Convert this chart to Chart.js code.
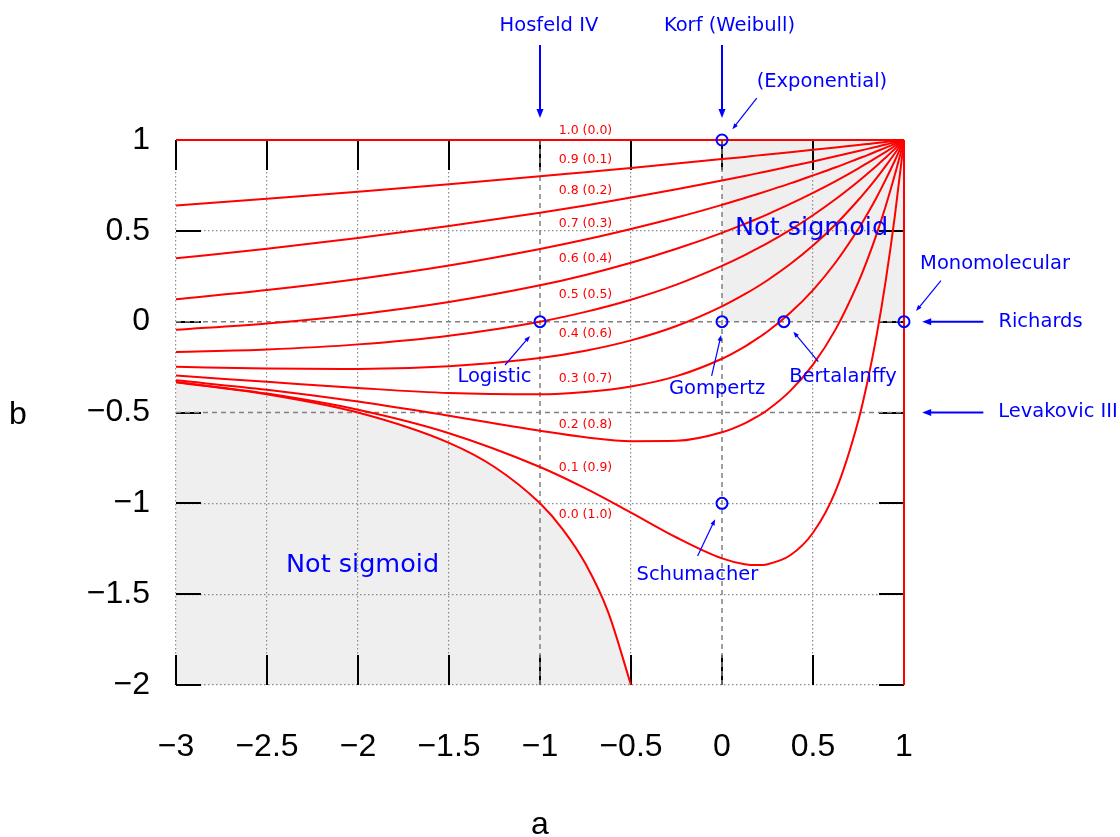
<!DOCTYPE html>
<html><head><meta charset="utf-8">
<script src="https://cdn.jsdelivr.net/npm/chart.js@4.4.1/dist/chart.umd.min.js"></script>
<style>html,body{margin:0;padding:0;background:#fff;overflow:hidden}#wrap{width:1120px;height:837px;position:relative}</style>
</head><body>
<div id="wrap"><canvas id="c" width="1120" height="837"></canvas></div>
<script>
// ---- data ----
const aGrid = [-3, -2.5, -2, -1.5, -1, -0.75, -0.5, -0.25, 0, 0.125, 0.1875, 0.25, 0.375, 0.5, 0.625, 0.75, 0.8, 0.85, 0.9, 0.95, 1];
const b09 = [0.639, 0.676, 0.715, 0.756, 0.800, 0.823, 0.846, 0.870, 0.895, 0.907, 0.914, 0.920, 0.933, 0.946, 0.959, 0.973, 0.978, 0.983, 0.989, 0.994, 1];
const b08 = [0.349, 0.401, 0.460, 0.526, 0.600, 0.640, 0.683, 0.729, 0.777, 0.802, 0.815, 0.828, 0.855, 0.882, 0.910, 0.939, 0.951, 0.963, 0.975, 0.988, 1];
const b07 = [0.124, 0.174, 0.235, 0.309, 0.400, 0.452, 0.510, 0.573, 0.643, 0.681, 0.700, 0.720, 0.761, 0.805, 0.850, 0.898, 0.917, 0.938, 0.958, 0.979, 1];
const b06 = [-0.045, -0.010, 0.040, 0.108, 0.200, 0.257, 0.324, 0.401, 0.489, 0.538, 0.564, 0.591, 0.648, 0.709, 0.774, 0.844, 0.874, 0.904, 0.935, 0.967, 1];
const b05 = [-0.167, -0.153, -0.125, -0.077, 0.000, 0.054, 0.121, 0.204, 0.307, 0.366, 0.399, 0.432, 0.505, 0.586, 0.675, 0.773, 0.815, 0.858, 0.904, 0.951, 1];
const b04 = [-0.248, -0.258, -0.260, -0.245, -0.200, -0.160, -0.103, -0.024, 0.084, 0.151, 0.188, 0.228, 0.317, 0.419, 0.536, 0.671, 0.730, 0.792, 0.858, 0.927, 1];
const b03 = [-0.297, -0.331, -0.365, -0.393, -0.400, -0.387, -0.357, -0.300, -0.204, -0.137, -0.097, -0.054, 0.049, 0.174, 0.327, 0.511, 0.595, 0.685, 0.783, 0.887, 1];
const b02 = [-0.323, -0.375, -0.440, -0.518, -0.600, -0.636, -0.658, -0.656, -0.609, -0.560, -0.526, -0.486, -0.381, -0.236, -0.041, 0.219, 0.344, 0.483, 0.638, 0.810, 1];
const b01 = [-0.332, -0.396, -0.485, -0.614, -0.800, -0.918, -1.051, -1.188, -1.303, -1.335, -1.340, -1.335, -1.286, -1.162, -0.930, -0.541, -0.327, -0.073, 0.229, 0.584, 1];
const boundaryA = [-3, -2.5, -2, -1.5, -1.25, -1, -0.875, -0.75, -0.625, -0.5];
const boundaryB = [-0.333, -0.4, -0.5, -0.667, -0.8, -1, -1.143, -1.333, -1.6, -2];
const topLineA = [-3, 1];
const topLineB = [1, 1];
const rightLineA = [1, 1];
const rightLineB = [1, -2];
const markerA = [0, -1, 0, 0.34, 1, 0];
const markerB = [1, 0, 0, 0, 0, -1];
const familyA = [-1, 0];      // dashed vertical family lines
const familyB = [0, -0.5];    // dashed horizontal family lines
const curveLabels = ['1.0 (0.0)', '0.9 (0.1)', '0.8 (0.2)', '0.7 (0.3)', '0.6 (0.4)', '0.5 (0.5)', '0.4 (0.6)', '0.3 (0.7)', '0.2 (0.8)', '0.1 (0.9)', '0.0 (1.0)'];
const curveLabelB = [1.05, 0.89, 0.72, 0.54, 0.345, 0.147, -0.068, -0.316, -0.569, -0.805, -1.064];
const xTickValues = [-3, -2.5, -2, -1.5, -1, -0.5, 0, 0.5, 1];
const yTickValues = [1, 0.5, 0, -0.5, -1, -1.5, -2];

// text notes (data coordinates) and arrows
const notes = [
  {t: 'Hosfeld IV', a: -0.951, b: 1.628},
  {t: 'Korf (Weibull)', a: 0.041, b: 1.628},
  {t: '(Exponential)', a: 0.549, b: 1.319},
  {t: 'Monomolecular', a: 1.5, b: 0.317},
  {t: 'Richards', a: 1.75, b: 0.0},
  {t: 'Levakovic III', a: 1.846, b: -0.495},
  {t: 'Logistic', a: -1.25, b: -0.305},
  {t: 'Gompertz', a: -0.027, b: -0.371},
  {t: 'Bertalanffy', a: 0.665, b: -0.305},
  {t: 'Schumacher', a: -0.135, b: -1.394}
];
const bigNotes = [
  {t: 'Not sigmoid', a: 0.492, b: 0.516},
  {t: 'Not sigmoid', a: -1.975, b: -1.339}
];
const arrows = [
  {a1: -1, b1: 1.523, a2: -1, b2: 1.121, thick: true},
  {a1: 0, b1: 1.523, a2: 0, b2: 1.121, thick: true},
  {a1: 1.436, b1: 0, a2: 1.1, b2: 0, thick: true},
  {a1: 1.436, b1: -0.5, a2: 1.1, b2: -0.5, thick: true},
  {a1: 0.191, b1: 1.23, a2: 0.057, b2: 1.059, thick: false},
  {a1: 1.203, b1: 0.2255, a2: 1.066, b2: 0.0587, thick: false},
  {a1: -1.192, b1: -0.2385, a2: -1.055, b2: -0.079, thick: false},
  {a1: -0.057, b1: -0.299, a2: -0.005, b2: -0.073, thick: false},
  {a1: 0.529, b1: -0.22, a2: 0.392, b2: -0.055, thick: false},
  {a1: -0.134, b1: -1.29, a2: -0.038, b2: -1.088, thick: false}
];

const RED = '#ff0000', BLUE = '#0000ff', SHADE = '#efefef';
const pts = (xs, ys) => xs.map((v, i) => ({x: v, y: ys[i]}));
const fmt = v => String(v).replace('-', '\u2212');

const datasets = [];
datasets.push({data: pts(markerA, markerB), showLine: false, pointRadius: 5.5, pointBorderWidth: 2,
  pointBorderColor: BLUE, pointBackgroundColor: 'rgba(0,0,0,0)', order: 0, clip: false});
[b09, b08, b07, b06, b05, b04, b03, b02, b01].forEach(arr => {
  datasets.push({data: pts(aGrid, arr), showLine: true, borderColor: RED, borderWidth: 2, pointRadius: 0,
    cubicInterpolationMode: 'monotone', fill: false, order: 1, clip: false});
});
datasets.push({data: pts(boundaryA, boundaryB), showLine: true, borderColor: RED, borderWidth: 2, pointRadius: 0,
  cubicInterpolationMode: 'monotone', fill: 'start', backgroundColor: SHADE, order: 1, clip: false});
datasets.push({data: pts(topLineA, topLineB), showLine: true, borderColor: RED, borderWidth: 2, pointRadius: 0, fill: false, order: 1, clip: false});
datasets.push({data: pts(rightLineA, rightLineB), showLine: true, borderColor: RED, borderWidth: 2, pointRadius: 0, fill: false, order: 1, clip: false});
familyA.forEach(a => datasets.push({data: [{x: a, y: 1}, {x: a, y: -2}], showLine: true, borderColor: '#808080',
  borderWidth: 1.5, borderDash: [5, 4], pointRadius: 0, fill: false, order: 2, clip: false}));
familyB.forEach(b => datasets.push({data: [{x: -3, y: b}, {x: 1, y: b}], showLine: true, borderColor: '#808080',
  borderWidth: 1.5, borderDash: [5, 4], pointRadius: 0, fill: false, order: 2, clip: false}));
// shaded "not sigmoid" square
datasets.push({data: [{x: 0, y: 1}, {x: 1, y: 1}], showLine: true, borderWidth: 0, borderColor: 'rgba(0,0,0,0)',
  pointRadius: 0, fill: {value: 0}, backgroundColor: SHADE, order: 3});

function arrow(ctx, x1, y1, x2, y2, lw, hl, hw) {
  const ang = Math.atan2(y2 - y1, x2 - x1), c = Math.cos(ang), s = Math.sin(ang);
  ctx.lineWidth = lw;
  ctx.beginPath(); ctx.moveTo(x1, y1); ctx.lineTo(x2 - c * hl * 0.7, y2 - s * hl * 0.7); ctx.stroke();
  ctx.beginPath(); ctx.moveTo(x2, y2);
  ctx.lineTo(x2 - hl * c + hw / 2 * s, y2 - hl * s - hw / 2 * c);
  ctx.lineTo(x2 - hl * c - hw / 2 * s, y2 - hl * s + hw / 2 * c);
  ctx.closePath(); ctx.fill();
}

const deco = {
  id: 'deco',
  beforeDatasetsDraw(chart) {
    const {ctx, chartArea: ca, scales: {x, y}} = chart;
    ctx.save();
    ctx.strokeStyle = '#000'; ctx.lineWidth = 2;
    ctx.beginPath();
    xTickValues.forEach(v => {
      const px = Math.round(x.getPixelForValue(v));
      ctx.moveTo(px, ca.top); ctx.lineTo(px, ca.top + 30);
      ctx.moveTo(px, ca.bottom); ctx.lineTo(px, ca.bottom - 30);
    });
    yTickValues.forEach(v => {
      const py = Math.round(y.getPixelForValue(v));
      ctx.moveTo(ca.left, py); ctx.lineTo(ca.left + 25, py);
      ctx.moveTo(ca.right, py); ctx.lineTo(ca.right - 25, py);
    });
    ctx.stroke();
    ctx.restore();
  },
  afterDatasetsDraw(chart) {
    const {ctx, scales: {x, y}} = chart;
    ctx.save();
    ctx.textAlign = 'center'; ctx.textBaseline = 'middle';
    ctx.fillStyle = RED; ctx.font = '12.5px "DejaVu Sans"';
    curveLabels.forEach((t, i) => ctx.fillText(t, x.getPixelForValue(-0.75), y.getPixelForValue(curveLabelB[i])));
    ctx.fillStyle = BLUE;
    ctx.font = '19.5px "DejaVu Sans"';
    notes.forEach(n => ctx.fillText(n.t, x.getPixelForValue(n.a), y.getPixelForValue(n.b)));
    ctx.font = '25.5px "DejaVu Sans"';
    bigNotes.forEach(n => ctx.fillText(n.t, x.getPixelForValue(n.a), y.getPixelForValue(n.b)));
    ctx.strokeStyle = BLUE;
    arrows.forEach(r => {
      const x1 = x.getPixelForValue(r.a1), y1 = y.getPixelForValue(r.b1);
      const x2 = x.getPixelForValue(r.a2), y2 = y.getPixelForValue(r.b2);
      if (r.thick) arrow(ctx, x1, y1, x2, y2, 2, 9, 7); else arrow(ctx, x1, y1, x2, y2, 1.2, 6, 4.5);
    });
    ctx.restore();
  },
  afterDraw(chart) {
    const {ctx, chartArea: ca} = chart;
    ctx.save();
    ctx.fillStyle = '#000'; ctx.font = '32px "Liberation Sans"';
    ctx.textAlign = 'center'; ctx.textBaseline = 'middle';
    ctx.fillText('b', 18, (ca.top + ca.bottom) / 2 + 3);
    ctx.fillText('a', (ca.left + ca.right) / 2, ca.bottom + 140);
    ctx.restore();
  }
};

const gridColor = (fam) => (c) => (c.tick && fam.includes(c.tick.value)) ? 'rgba(0,0,0,0)' : '#8a8a8a';

new Chart(document.getElementById('c'), {
  type: 'scatter',
  data: {datasets},
  options: {
    responsive: false, animation: false, events: [],
    layout: {padding: {left: 0, top: 140, right: 216, bottom: 0}},
    plugins: {legend: {display: false}, tooltip: {enabled: false}, filler: {drawTime: 'beforeDraw'}},
    scales: {
      x: {type: 'linear', position: 'bottom', min: -3, max: 1,
        afterFit: s => { s.height = 152; },
        grid: {color: gridColor(familyA), lineWidth: 1.2, drawTicks: false, tickLength: 0},
        border: {display: false, dash: [1.5, 2.5]},
        ticks: {stepSize: 0.5, autoSkip: false, maxRotation: 0, padding: 43, color: '#000',
          font: {family: 'Liberation Sans', size: 32}, callback: v => fmt(v)}},
      y: {type: 'linear', position: 'left', min: -2, max: 1,
        afterFit: s => { s.width = 176; },
        grid: {color: gridColor(familyB), lineWidth: 1.2, drawTicks: false, tickLength: 0},
        border: {display: false, dash: [1.5, 2.5]},
        ticks: {stepSize: 0.5, autoSkip: false, padding: 26, color: '#000',
          font: {family: 'Liberation Sans', size: 32}, callback: v => fmt(v)}}
    }
  },
  plugins: [deco]
});
</script>
</body></html>
